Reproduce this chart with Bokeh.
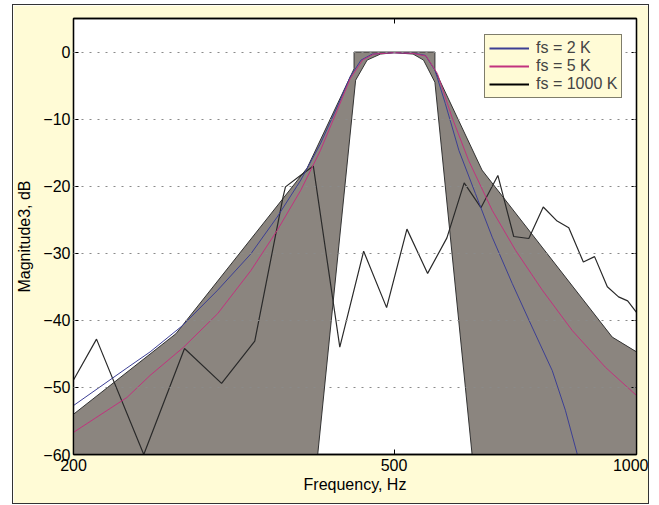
from bokeh.plotting import figure
from bokeh.models import (FixedTicker, LinearAxis, LogAxis, Legend, LegendItem,
                          CustomJSTickFormatter, CustomLabelingPolicy, Spacer)
from bokeh.layouts import row, column
from bokeh.embed import file_html
from bokeh.resources import INLINE

# ---- data ----
mask_f = [200, 200, 268, 390, 446, 446, 562, 562, 643, 933, 1000, 1000,
          625, 562, 544, 528, 500, 481, 463, 448, 402]
mask_db = [-60, -54, -42, -17.3, -2.5, 0, 0, -2.7, -17.6, -42.5, -44.7, -60,
           -60, -4.5, -1.2, -0.3, -0.1, -0.3, -1.2, -4.2, -60]

fs2k_f = [200, 233, 249, 273, 302, 332, 358, 383, 405, 425, 441, 455, 470,
          500, 530, 547, 562, 579, 602, 631, 662, 701, 742, 786, 816, 844, 852]
fs2k_db = [-52.7, -47.1, -44.7, -40.8, -35.5, -30.1, -24.6, -19.1, -13.7, -8.2,
           -3.7, -1.2, -0.3, -0.1, -0.2, -0.5, -2.7, -7.7, -14.7, -21.1, -27.6,
           -34.5, -41.0, -47.5, -53.4, -59.9, -62.0]

fs5k_f = [200, 233, 249, 274, 302, 332, 358, 383, 405, 425, 441, 457, 472,
          500, 528, 548, 566, 590, 619, 662, 708, 764, 832, 915, 1000]
fs5k_db = [-56.7, -51.5, -48.2, -44.0, -39.0, -32.6, -26.6, -20.6, -14.7, -8.7,
           -4.0, -1.2, -0.3, -0.1, -0.2, -0.6, -3.2, -9.7, -16.2, -23.6, -29.6,
           -35.5, -41.5, -47.0, -51.2]

fs1000k_f = [200, 213.6, 244.5, 274.7, 305.4, 335.8, 364.1, 366.6, 382.6, 397,
             428.2, 458.4, 489.5, 518.8, 550.4, 581.6, 611, 641, 672.8, 704,
             735, 766, 797, 824, 859, 887, 920, 950, 975, 1000]
fs1000k_db = [-48.9, -42.8, -60.0, -44.2, -49.4, -43.1, -21.6, -20.1, -18.4, -17.0,
              -44.0, -29.7, -38.1, -26.4, -33.0, -27.7, -19.5, -23.2, -18.4, -27.5,
              -27.8, -23.1, -25.2, -26.2, -31.3, -30.5, -35.0, -36.5, -37.1, -38.8]

x_ticks = [200, 500, 1000]
y_ticks = [0, -10, -20, -30, -40, -50, -60]
legend_labels = ["fs = 2 K", "fs = 5 K", "fs = 1000 K"]

CREAM = "#FFFBD6"
GRAY = "#8B857F"
BLUE = "#3C3F94"
MAGENTA = "#C2327E"
BLACK = "#2A2A2A"
FONT = "Liberation Sans"
NAN = float("nan")

p = figure(width=635, height=498, x_axis_type="log", x_range=(200, 1000),
           y_range=(-60, 5), output_backend="svg", toolbar_location=None,
           min_border_left=60, min_border_top=13, min_border_right=12,
           min_border_bottom=49, background_fill_color="white",
           border_fill_color=CREAM)
p.styles = {"outline": "1px solid #333"}
p.outline_line_color = "black"
p.outline_line_width = 1.3

p.patch(mask_f, mask_db, fill_color=GRAY, line_color="#333333", line_width=1)
p.line(fs1000k_f, fs1000k_db, line_color=BLACK, line_width=1.2)
p.line(fs2k_f, fs2k_db, line_color=BLUE, line_width=1)
p.line(fs5k_f, fs5k_db, line_color=MAGENTA, line_width=1)

# legend-only renderers (thicker sample lines, nothing drawn in the plot)
lb = p.line([NAN], [NAN], line_color=BLUE, line_width=2)
lm = p.line([NAN], [NAN], line_color=MAGENTA, line_width=2)
lk = p.line([NAN], [NAN], line_color="black", line_width=2)
legend = Legend(items=[LegendItem(label=legend_labels[0], renderers=[lb]),
                       LegendItem(label=legend_labels[1], renderers=[lm]),
                       LegendItem(label=legend_labels[2], renderers=[lk])],
                location=(411, 356), background_fill_color=CREAM,
                background_fill_alpha=1, border_line_color="black",
                border_line_width=1, label_text_font=FONT,
                label_text_font_size="16px", glyph_width=40, glyph_height=14,
                label_height=14, label_standoff=7, padding=4, spacing=0,
                margin=0)
p.add_layout(legend)

xt = FixedTicker(ticks=x_ticks, minor_ticks=[])
yt = FixedTicker(ticks=y_ticks, minor_ticks=[])
fmt = CustomJSTickFormatter(code="return tick < 0 ? '\\u2212' + Math.abs(tick) : String(tick);")
blank = CustomJSTickFormatter(code="return '';")

p.xaxis.ticker = xt
p.yaxis.ticker = yt
p.yaxis.formatter = fmt
p.xaxis.axis_label = "Frequency, Hz"
p.yaxis.axis_label = "Magnitude3, dB"

no_labels = CustomLabelingPolicy(code="""
for (const i of indices)
    indices.unset(i)
return indices
""")

def style_axis(ax, labels=True):
    ax.axis_line_color = "black"
    ax.axis_line_width = 1.3
    ax.major_tick_in = 5
    ax.major_tick_out = 0
    ax.major_tick_line_color = "black"
    ax.minor_tick_line_color = None
    if labels:
        ax.major_label_text_font = FONT
        ax.major_label_text_font_size = "16px"
        ax.major_label_text_color = "black"
        ax.axis_label_text_font = FONT
        ax.axis_label_text_font_size = "16px"
        ax.axis_label_text_font_style = "normal"
        ax.axis_label_text_color = "black"
    else:
        ax.formatter = blank
        ax.major_label_policy = no_labels
        ax.major_label_standoff = 0

for ax in p.xaxis:
    style_axis(ax)
    ax.major_label_standoff = 4
    ax.axis_label_standoff = 2
for ax in p.yaxis:
    style_axis(ax)
    ax.major_label_standoff = 3
    ax.axis_label_standoff = 7

top = LogAxis(ticker=FixedTicker(ticks=x_ticks, minor_ticks=[]))
style_axis(top, labels=False)
p.add_layout(top, "above")
right = LinearAxis(ticker=FixedTicker(ticks=y_ticks, minor_ticks=[]))
style_axis(right, labels=False)
p.add_layout(right, "right")

for g in (p.xgrid, p.ygrid):
    g.ticker = FixedTicker(ticks=x_ticks if g is p.xgrid else y_ticks, minor_ticks=[])
    g.grid_line_color = "#8A8A8A"
    g.grid_line_dash = "2 6"
    g.grid_line_width = 1
    g.level = "guide"

layout = column(Spacer(height=5), row(Spacer(width=13), p))
open("out.html", "w").write(file_html(layout, INLINE))
